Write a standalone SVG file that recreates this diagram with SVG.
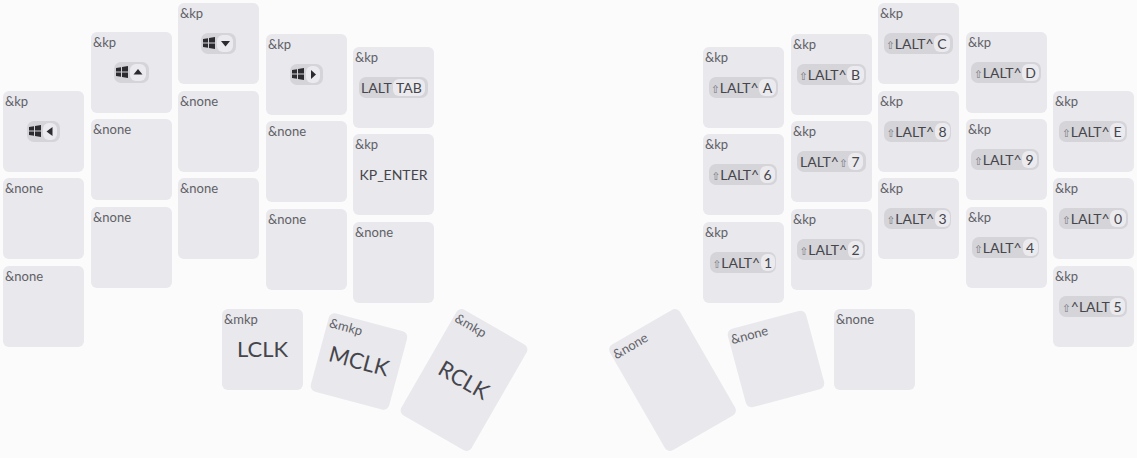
<svg xmlns="http://www.w3.org/2000/svg" width="1137" height="458" viewBox="0 0 1137 458">
<style>
text{font-family:"Lato","Liberation Sans",sans-serif;fill:#44444a;opacity:.99}
.k{fill:#e8e8ed}
.b{font-size:13px;fill:#5f5f65}
.c{fill:#d4d4d9}
.t{fill:#ebebef}
.m{font-size:14px;text-anchor:middle;transform:translateY(1px)}
.l{font-size:14px;transform:translateY(1px)}
.s{font-family:"DejaVu Sans",sans-serif;font-size:10.500px;fill:#77777d}
.big{font-size:22px;text-anchor:middle}
.a{fill:#2b2b30}
</style>
<defs>
<rect id="key" class="k" width="81" height="81" rx="6"/>
<path id="win" class="a" d="M0 2 5 1.2V5.6H0ZM6 1 12 0V5.6H6ZM0 6.4H5V10.8L0 10ZM6 6.4H12V12L6 11Z"/>
</defs>
<rect width="1137" height="458" fill="#fbfbfc"/>
<g id="connectors"/>
<g id="L1"><use href="#key" x="3" y="91"/><text class="b" x="5" y="106">&amp;kp</text><rect class="c" x="27" y="121" width="33" height="21" rx="7"/><rect class="t" x="43" y="123" width="14" height="17" rx="6"/><use href="#win" x="29" y="125"/><polygon class="a" points="46.500,131.500 52.500,127 52.500,136"/></g>
<g id="L2"><use href="#key" x="3" y="178"/><text class="b" x="5" y="193">&amp;none</text></g>
<g id="L3"><use href="#key" x="3" y="266"/><text class="b" x="5" y="281">&amp;none</text></g>
<g id="L4"><use href="#key" x="91" y="32"/><text class="b" x="93" y="47">&amp;kp</text><rect class="c" x="114" y="62" width="35" height="21" rx="7"/><rect class="t" x="130" y="64" width="16" height="17" rx="6"/><use href="#win" x="116" y="66"/><polygon class="a" points="138,69 142.500,74.500 133.500,74.500"/></g>
<g id="L5"><use href="#key" x="91" y="119"/><text class="b" x="93" y="134">&amp;none</text></g>
<g id="L6"><use href="#key" x="91" y="207"/><text class="b" x="93" y="222">&amp;none</text></g>
<g id="L7"><use href="#key" x="178" y="3"/><text class="b" x="180" y="18">&amp;kp</text><rect class="c" x="201" y="33" width="35" height="21" rx="7"/><rect class="t" x="217" y="35" width="16" height="17" rx="6"/><use href="#win" x="203" y="37"/><polygon class="a" points="225.500,46.500 221,41 230,41"/></g>
<g id="L8"><use href="#key" x="178" y="91"/><text class="b" x="180" y="106">&amp;none</text></g>
<g id="L9"><use href="#key" x="178" y="178"/><text class="b" x="180" y="193">&amp;none</text></g>
<g id="L10"><use href="#key" x="266" y="34"/><text class="b" x="268" y="49">&amp;kp</text><rect class="c" x="290" y="64" width="33" height="21" rx="7"/><rect class="t" x="306" y="66" width="14" height="17" rx="6"/><use href="#win" x="292" y="68"/><polygon class="a" points="316,74.500 311,70 311,79"/></g>
<g id="L11"><use href="#key" x="266" y="121"/><text class="b" x="268" y="136">&amp;none</text></g>
<g id="L12"><use href="#key" x="266" y="209"/><text class="b" x="268" y="224">&amp;none</text></g>
<g id="L13"><use href="#key" x="353" y="47"/><text class="b" x="355" y="62">&amp;kp</text><rect class="c" x="359" y="77" width="69" height="21" rx="7"/><rect class="t" x="393" y="79" width="32" height="17" rx="6"/><text class="l" x="361" y="92">LALT</text><text class="m" x="409" y="92">TAB</text></g>
<g id="L14"><use href="#key" x="353" y="134"/><text class="b" x="355" y="149">&amp;kp</text><text class="m" x="393.500" y="178.500">KP_ENTER</text></g>
<g id="L15"><use href="#key" x="353" y="222"/><text class="b" x="355" y="237">&amp;none</text></g>
<g id="T1"><use href="#key" x="222" y="309"/><text class="b" x="224" y="324">&amp;mkp</text><text class="big" x="262.500" y="357">LCLK</text></g>
<g id="T2" transform="rotate(15 359 361.500)"><use href="#key" x="318.500" y="321"/><text class="b" x="320.500" y="336">&amp;mkp</text><text class="big" x="359" y="369">MCLK</text></g>
<g id="T3" transform="rotate(30 464 380)"><rect class="k" x="423.500" y="319" width="81" height="122" rx="6"/><text class="b" x="425.500" y="334">&amp;mkp</text><text class="big" x="464" y="388">RCLK</text></g>
<g id="R1"><use href="#key" x="703" y="47"/><text class="b" x="705" y="62">&amp;kp</text><rect class="c" x="709" y="77" width="69" height="21" rx="7"/><rect class="t" x="759" y="79" width="17" height="17" rx="6"/><text class="l" x="711" y="92"><tspan class="s">⇧</tspan>LALT^</text><text class="m" x="767.500" y="92">A</text></g>
<g id="R2"><use href="#key" x="703" y="134"/><text class="b" x="705" y="149">&amp;kp</text><rect class="c" x="709" y="164" width="68" height="21" rx="7"/><rect class="t" x="760" y="166" width="15" height="17" rx="6"/><text class="l" x="711.500" y="179"><tspan class="s">⇧</tspan>LALT^</text><text class="m" x="767.500" y="179">6</text></g>
<g id="R3"><use href="#key" x="703" y="222"/><text class="b" x="705" y="237">&amp;kp</text><rect class="c" x="710" y="252" width="66" height="21" rx="7"/><rect class="t" x="761" y="254" width="14" height="17" rx="6"/><text class="l" x="712.500" y="267"><tspan class="s">⇧</tspan>LALT^</text><text class="m" x="768" y="267">1</text></g>
<g id="R4"><use href="#key" x="791" y="34"/><text class="b" x="793" y="49">&amp;kp</text><rect class="c" x="797" y="64" width="69" height="21" rx="7"/><rect class="t" x="847" y="66" width="17" height="17" rx="6"/><text class="l" x="799" y="79"><tspan class="s">⇧</tspan>LALT^</text><text class="m" x="855.500" y="79">B</text></g>
<g id="R5"><use href="#key" x="791" y="121"/><text class="b" x="793" y="136">&amp;kp</text><rect class="c" x="797" y="151" width="69" height="21" rx="7"/><rect class="t" x="848" y="153" width="15" height="17" rx="6"/><text class="l" x="800" y="166">LALT^<tspan class="s">⇧</tspan></text><text class="m" x="855.500" y="166">7</text></g>
<g id="R6"><use href="#key" x="791" y="209"/><text class="b" x="793" y="224">&amp;kp</text><rect class="c" x="797" y="239" width="68" height="21" rx="7"/><rect class="t" x="848" y="241" width="15" height="17" rx="6"/><text class="l" x="799.500" y="254"><tspan class="s">⇧</tspan>LALT^</text><text class="m" x="855.500" y="254">2</text></g>
<g id="R7"><use href="#key" x="878" y="3"/><text class="b" x="880" y="18">&amp;kp</text><rect class="c" x="884" y="33" width="69" height="21" rx="7"/><rect class="t" x="934" y="35" width="16" height="17" rx="6"/><text class="l" x="886" y="48"><tspan class="s">⇧</tspan>LALT^</text><text class="m" x="942" y="48">C</text></g>
<g id="R8"><use href="#key" x="878" y="91"/><text class="b" x="880" y="106">&amp;kp</text><rect class="c" x="884" y="121" width="67" height="21" rx="7"/><rect class="t" x="935" y="123" width="15" height="17" rx="6"/><text class="l" x="886.500" y="136"><tspan class="s">⇧</tspan>LALT^</text><text class="m" x="942.500" y="136">8</text></g>
<g id="R9"><use href="#key" x="878" y="178"/><text class="b" x="880" y="193">&amp;kp</text><rect class="c" x="884" y="208" width="67" height="21" rx="7"/><rect class="t" x="935" y="210" width="15" height="17" rx="6"/><text class="l" x="886.500" y="223"><tspan class="s">⇧</tspan>LALT^</text><text class="m" x="942.500" y="223">3</text></g>
<g id="R10"><use href="#key" x="966" y="32"/><text class="b" x="968" y="47">&amp;kp</text><rect class="c" x="971" y="62" width="70" height="21" rx="7"/><rect class="t" x="1022" y="64" width="17" height="17" rx="6"/><text class="l" x="974" y="77"><tspan class="s">⇧</tspan>LALT^</text><text class="m" x="1030.500" y="77">D</text></g>
<g id="R11"><use href="#key" x="966" y="119"/><text class="b" x="968" y="134">&amp;kp</text><rect class="c" x="971" y="149" width="68" height="21" rx="7"/><rect class="t" x="1022" y="151" width="15" height="17" rx="6"/><text class="l" x="974" y="164"><tspan class="s">⇧</tspan>LALT^</text><text class="m" x="1029.500" y="164">9</text></g>
<g id="R12"><use href="#key" x="966" y="207"/><text class="b" x="968" y="222">&amp;kp</text><rect class="c" x="972" y="237" width="67" height="21" rx="7"/><rect class="t" x="1023" y="239" width="15" height="17" rx="6"/><text class="l" x="974" y="252"><tspan class="s">⇧</tspan>LALT^</text><text class="m" x="1030" y="252">4</text></g>
<g id="R13"><use href="#key" x="1053" y="91"/><text class="b" x="1055" y="106">&amp;kp</text><rect class="c" x="1059" y="121" width="68" height="21" rx="7"/><rect class="t" x="1110" y="123" width="15" height="17" rx="6"/><text class="l" x="1062" y="136"><tspan class="s">⇧</tspan>LALT^</text><text class="m" x="1117.500" y="136">E</text></g>
<g id="R14"><use href="#key" x="1053" y="178"/><text class="b" x="1055" y="193">&amp;kp</text><rect class="c" x="1059" y="208" width="69" height="21" rx="7"/><rect class="t" x="1110" y="210" width="16" height="17" rx="6"/><text class="l" x="1062" y="223"><tspan class="s">⇧</tspan>LALT^</text><text class="m" x="1118" y="223">0</text></g>
<g id="R15"><use href="#key" x="1053" y="266"/><text class="b" x="1055" y="281">&amp;kp</text><rect class="c" x="1059" y="296" width="68" height="21" rx="7"/><rect class="t" x="1110" y="298" width="15" height="17" rx="6"/><text class="l" x="1062" y="311"><tspan class="s">⇧</tspan>^LALT</text><text class="m" x="1117.500" y="311">5</text></g>
<g id="T4"><use href="#key" x="834" y="309"/><text class="b" x="836" y="324">&amp;none</text></g>
<g id="T5" transform="rotate(-15 776 359)"><use href="#key" x="735.500" y="318.500"/><text class="b" x="737.500" y="333.500">&amp;none</text></g>
<g id="T6" transform="rotate(-30 672.500 380)"><rect class="k" x="632" y="319" width="81" height="122" rx="6"/><text class="b" x="634" y="334">&amp;none</text></g>
</svg>
